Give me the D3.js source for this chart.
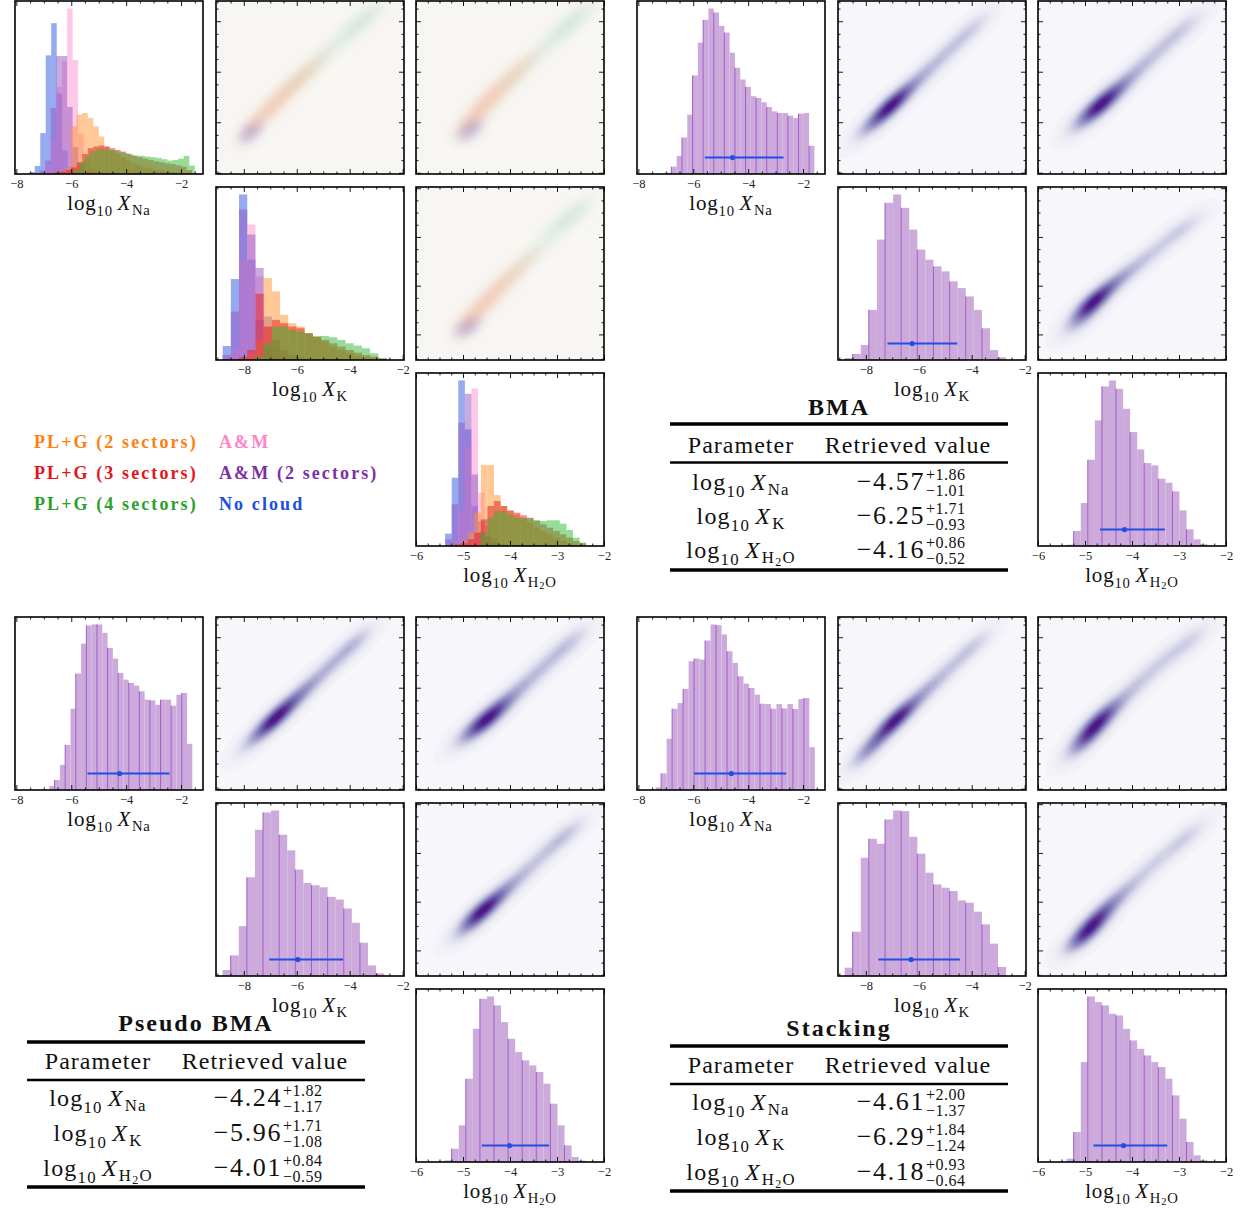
<!DOCTYPE html>
<html>
<head>
<meta charset="utf-8">
<script src="https://cdn.jsdelivr.net/npm/d3@7"></script>
<style>
body { margin: 0; background: #fff; }
</style>
</head>
<body>
<script>
// ---------- axes ----------
var paramKeys = ["Na", "K", "H2O"];
var naRange = [-8.05, -1.2];
var kRange = [-9.05, -1.95];
var h2oRange = [-6.0, -2.0];
var naTicks = [-8, -6, -4, -2];
var kTicks = [-8, -6, -4, -2];
var h2oTicks = [-6, -5, -4, -3, -2];
var minorSteps = [0.5, 0.5, 0.25];

// ---------- individual models (top left block) ----------
var modelNames = ["PL+G (2 sectors)", "PL+G (3 sectors)", "PL+G (4 sectors)", "A&M", "A&M (2 sectors)", "No cloud"];
var modelText = ["#ff7f0e", "#e4141c", "#2ca02c", "#ff85c6", "#7b2fa6", "#1a4fe0"];
var modelFill = ["#ff912d", "#e81a1e", "#2db92d", "#ff91cd", "#9155c3", "#2d55e1"];
var drawOrder = [5, 3, 4, 0, 1, 2];

var naModelStart = [-6.6, -6.6, -5.9, -7.15, -7.35, -7.53];
var naModelWidth = 0.2;
var naModelCounts = [
  [5, 10, 20, 142, 177, 182, 167, 142, 112, 82, 70, 60, 50, 40, 32, 26, 20, 16, 12, 10, 8, 6, 5, 4, 3, 2],
  [5, 8, 12, 20, 35, 60, 77, 82, 85, 82, 77, 72, 67, 60, 54, 50, 46, 42, 38, 35, 32, 30, 26, 22, 12],
  [12, 35, 55, 68, 75, 75, 72, 70, 66, 62, 58, 55, 54, 52, 50, 48, 44, 40, 42, 46, 54, 25],
  [5, 30, 100, 260, 337, 494, 340, 120, 40, 15, 6, 3, 2, 1],
  [3, 10, 40, 197, 352, 352, 200, 80, 30, 12, 6, 3, 2, 1],
  [6, 24, 122, 354, 450, 240, 70, 20, 8, 4, 2]
];
var kModelStart = [-8.8, -8.8, -7.57, -8.8, -8.8, -8.8];
var kModelWidth = 0.31;
var kModelCounts = [
  [1, 2, 5, 20, 60, 245, 205, 135, 110, 100, 80, 70, 55, 40, 30, 20, 12, 8, 5, 3],
  [1, 3, 8, 30, 198, 100, 120, 110, 100, 95, 80, 70, 60, 50, 40, 30, 22, 15, 10, 5],
  [10, 50, 100, 100, 90, 85, 80, 70, 72, 68, 60, 50, 43, 35, 20, 5],
  [3, 30, 300, 405, 250, 100, 40, 20, 10, 5, 3],
  [15, 145, 450, 375, 275, 130, 60, 30, 15, 8, 5, 3],
  [42, 242, 495, 300, 120, 40, 15, 8, 4, 2]
];
var h2oModelStart = [-5.18, -5.18, -4.62, -5.38, -5.38, -5.38];
var h2oModelWidth = 0.14;
var h2oModelCounts = [
  [5, 15, 40, 100, 243, 243, 153, 120, 105, 95, 85, 70, 55, 45, 35, 25, 15, 8, 3],
  [5, 10, 20, 40, 80, 120, 135, 120, 107, 100, 92, 85, 75, 65, 55, 45, 35, 25, 15, 8],
  [40, 85, 105, 105, 95, 85, 83, 83, 78, 75, 77, 77, 67, 48, 25, 10],
  [3, 15, 100, 300, 473, 160, 60, 25, 10, 5, 3],
  [20, 125, 370, 457, 215, 75, 30, 12, 6, 3, 2],
  [37, 205, 497, 350, 120, 40, 15, 8, 4, 2]
];

// faint 2D densities of the individual models: [x, y, weight]
var groupColors = ["#6a51a3", "#e6550d", "#31a354"];
var groupAlpha = [0.055, 0.035, 0.018];
var coolNaK = [[-7.75, -6.4, 1]], coolNaH2O = [[-4.85, -6.3, 1]], coolKH2O = [[-4.9, -7.7, 1]];
var orangeNaK = [[-7.3, -5.8, 1], [-6.7, -5.1, 0.9], [-6.0, -4.4, 0.7], [-5.3, -3.7, 0.45]];
var orangeNaH2O = [[-4.75, -5.8, 1], [-4.45, -5.1, 0.9], [-4.1, -4.4, 0.7], [-3.7, -3.7, 0.45]];
var orangeKH2O = [[-4.75, -7.2, 1], [-4.45, -6.5, 0.9], [-4.1, -5.8, 0.7], [-3.7, -5.0, 0.45]];
var greenNaK = [[-6.0, -4.4, 0.5], [-5.0, -3.4, 0.7], [-4.0, -2.4, 0.9], [-3.3, -1.8, 1]];
var greenNaH2O = [[-3.9, -4.3, 0.5], [-3.4, -3.3, 0.7], [-2.9, -2.4, 0.9], [-2.55, -1.8, 1]];
var greenKH2O = [[-3.9, -5.5, 0.5], [-3.4, -4.5, 0.7], [-2.9, -3.5, 0.9], [-2.6, -2.95, 1]];
var coolCov = [[0.3, 0.3, 0.5], [0.18, 0.3, 0.5], [0.18, 0.3, 0.5]];
var modelCov = [[0.5, 0.5, 0.8], [0.3, 0.5, 0.8], [0.3, 0.48, 0.8]];

// ---------- averaged posteriors ----------
var methodNames = ["BMA", "Pseudo BMA", "Stacking"];
var histStart = [[-6.99, -8.8, -5.39], [-6.8, -8.8, -5.39], [-7.37, -8.8, -5.39]];
var histWidth = [[0.193, 0.305, 0.15], [0.193, 0.305, 0.15], [0.2, 0.305, 0.15]];

var bmaNaCounts = [4, 22, 54, 109, 177, 294, 392, 460, 494, 482, 442, 422, 362, 317, 282, 260, 232, 227, 214, 200, 187, 182, 182, 174, 167, 180, 182, 84];
var bmaKCounts = [6, 18, 45, 150, 360, 470, 495, 455, 390, 330, 300, 280, 265, 235, 215, 190, 150, 95, 30, 8];
var bmaH2OCounts = [4, 45, 129, 259, 377, 479, 497, 472, 412, 342, 290, 249, 242, 202, 190, 164, 107, 50, 20, 5];
var pseudoNaCounts = [12, 30, 75, 135, 243, 348, 438, 492, 495, 495, 470, 425, 393, 350, 330, 320, 312, 295, 270, 268, 255, 270, 270, 252, 285, 290, 138];
var pseudoKCounts = [18, 62, 150, 297, 440, 492, 498, 425, 378, 320, 280, 273, 267, 238, 230, 203, 160, 100, 32, 8];
var pseudoH2OCounts = [5, 40, 110, 250, 400, 490, 497, 470, 420, 370, 330, 305, 290, 270, 235, 175, 110, 50, 15, 4];
var stackNaCounts = [8, 50, 153, 243, 260, 302, 385, 393, 390, 447, 495, 493, 465, 415, 380, 340, 318, 305, 285, 258, 257, 243, 257, 244, 257, 242, 272, 275, 128];
var stackKCounts = [25, 133, 355, 412, 397, 470, 497, 495, 418, 367, 310, 275, 265, 255, 227, 220, 193, 155, 97, 27];
var stackH2OCounts = [10, 90, 300, 497, 480, 470, 445, 440, 400, 365, 340, 320, 300, 285, 250, 200, 130, 60, 20, 5];

var bmaMedian = [-4.57, -6.25, -4.16], bmaPlus = [1.86, 1.71, 0.86], bmaMinus = [1.01, 0.93, 0.52];
var pseudoMedian = [-4.24, -5.96, -4.01], pseudoPlus = [1.82, 1.71, 0.84], pseudoMinus = [1.17, 1.08, 0.59];
var stackMedian = [-4.61, -6.29, -4.18], stackPlus = [2.00, 1.84, 0.93], stackMinus = [1.37, 1.24, 0.64];

// ridge of the joint density, [x, y, weight]
var bmaNaK = [[-8.0, -6.3, 0.3], [-7.5, -5.8, 0.6], [-7.0, -5.3, 1], [-6.4, -4.7, 0.55], [-5.7, -4.0, 0.4], [-5.0, -3.3, 0.35], [-4.3, -2.6, 0.32], [-3.75, -2.1, 0.22]];
var bmaNaH2O = [[-5.1, -6.0, 0.3], [-4.85, -5.6, 0.6], [-4.6, -5.2, 1], [-4.25, -4.6, 0.55], [-3.85, -3.9, 0.4], [-3.45, -3.2, 0.35], [-3.05, -2.5, 0.32], [-2.75, -2.1, 0.22]];
var bmaKH2O = [[-5.15, -7.6, 0.3], [-5.0, -7.1, 0.6], [-4.8, -6.6, 1], [-4.45, -6.0, 0.55], [-4.05, -5.4, 0.4], [-3.6, -4.7, 0.35], [-3.1, -3.9, 0.32], [-2.75, -3.45, 0.22]];
var pseudoNaK = [[-7.8, -6.2, 0.3], [-7.2, -5.6, 0.7], [-6.7, -5.1, 1], [-6.1, -4.5, 0.6], [-5.5, -3.9, 0.47], [-4.8, -3.2, 0.42], [-4.1, -2.5, 0.4], [-3.6, -2.05, 0.3]];
var pseudoNaH2O = [[-4.95, -5.9, 0.35], [-4.65, -5.5, 0.75], [-4.4, -5.1, 1], [-4.05, -4.5, 0.55], [-3.65, -3.8, 0.44], [-3.25, -3.1, 0.4], [-2.85, -2.4, 0.36], [-2.6, -2.05, 0.26]];
var pseudoKH2O = [[-4.95, -7.2, 0.3], [-4.75, -6.7, 0.75], [-4.5, -6.2, 1], [-4.15, -5.6, 0.55], [-3.75, -4.9, 0.44], [-3.3, -4.1, 0.38], [-2.9, -3.4, 0.34], [-2.7, -3.05, 0.24]];
var stackNaK = [[-8.1, -6.7, 0.45], [-7.6, -6.1, 0.6], [-7.0, -5.4, 1], [-6.5, -4.9, 0.7], [-5.8, -4.2, 0.47], [-5.1, -3.5, 0.4], [-4.3, -2.7, 0.36], [-3.7, -2.15, 0.26]];
var stackNaH2O = [[-5.1, -6.3, 0.55], [-4.9, -5.8, 0.8], [-4.7, -5.3, 1], [-4.35, -4.7, 0.55], [-3.9, -3.9, 0.42], [-3.45, -3.1, 0.38], [-2.95, -2.4, 0.34], [-2.65, -2.0, 0.24]];
var stackKH2O = [[-5.1, -7.6, 0.75], [-4.9, -7.1, 0.9], [-4.7, -6.6, 0.75], [-4.4, -6.0, 0.55], [-4.0, -5.3, 0.44], [-3.5, -4.4, 0.38], [-3.0, -3.6, 0.34], [-2.7, -3.1, 0.24]];
var ridgeCov = [[0.46, 0.46, 0.72], [0.28, 0.48, 0.72], [0.28, 0.45, 0.72]];

// ---------- layout ----------
var PW = 188, PH = 173;
var colX = [15, 216, 416], rowY = [1, 187, 373];
var blockOffsets = [[0, 0], [622, 0], [0, 616], [622, 616]];
var pairs = [[1, 0, 0, 1], [2, 0, 0, 2], [2, 1, 1, 2]]; // xParam, yParam, row, col
var tableLayouts = [
  {x0: 670, x1: 1008, title: 415, top: 424, header: 453, mid: 462.5, row0: 490, step: 34, bottom: 570},
  {x0: 27, x1: 365, title: 1031, top: 1042, header: 1069, mid: 1080, row0: 1106, step: 35, bottom: 1187},
  {x0: 670, x1: 1008, title: 1036, top: 1046, header: 1073, mid: 1084, row0: 1110, step: 35, bottom: 1191}
];
var SERIF = "'Liberation Serif', 'Times New Roman', serif";

var ranges = [naRange, kRange, h2oRange];
var majorTicks = [naTicks, kTicks, h2oTicks];
var fmtTick = d3.format("d");

var svg = d3.select("body").append("svg")
  .attr("width", 1245).attr("height", 1209)
  .attr("font-family", SERIF);
var defs = svg.append("defs");
defs.append("clipPath").attr("id", "panelClip")
  .append("rect").attr("width", PW).attr("height", PH);
defs.append("filter").attr("id", "soft")
  .attr("x", "-20%").attr("y", "-20%").attr("width", "140%").attr("height", "140%")
  .append("feGaussianBlur").attr("stdDeviation", 3.5);

function scaleFor(i, horizontal) {
  return d3.scaleLinear().domain(ranges[i]).range(horizontal ? [0, PW] : [PH, 0]);
}

function minorTicks(i) {
  var d = ranges[i], s = minorSteps[i];
  return d3.range(Math.ceil(d[0] / s), Math.floor(d[1] / s) + 1)
    .map(function (k) { return k * s; })
    .filter(function (v) { return majorTicks[i].indexOf(v) < 0; });
}

function panel(off, row, col) {
  return svg.append("g")
    .attr("transform", "translate(" + (off[0] + colX[col]) + "," + (off[1] + rowY[row]) + ")");
}

function addTicks(g, i, orient, labels) {
  var horiz = orient === "bottom" || orient === "top";
  var sc = scaleFor(i, horiz);
  var maj = majorTicks[i].filter(function (v) {
    return v >= ranges[i][0] - 1e-9 && v <= ranges[i][1] + 1e-9;
  });
  var make = {bottom: d3.axisBottom, top: d3.axisTop, left: d3.axisLeft, right: d3.axisRight}[orient];
  var tr = {bottom: [0, PH], top: [0, 0], left: [0, 0], right: [PW, 0]}[orient];
  var a = g.append("g").attr("transform", "translate(" + tr + ")")
    .call(make(sc).tickValues(maj).tickSize(-5).tickPadding(5)
      .tickFormat(labels ? fmtTick : function () { return ""; }));
  var b = g.append("g").attr("transform", "translate(" + tr + ")")
    .call(make(sc).tickValues(minorTicks(i)).tickSize(-2.5).tickFormat(function () { return ""; }));
  [a, b].forEach(function (s) {
    s.attr("font-family", SERIF).attr("font-size", 12.5);
    s.select(".domain").remove();
    s.selectAll("line").attr("stroke", "#000").attr("stroke-width", 0.9);
    s.selectAll("text").attr("fill", "#222");
  });
}

function frame(g) {
  g.append("rect").attr("width", PW).attr("height", PH)
    .attr("fill", "none").attr("stroke", "#000").attr("stroke-width", 1.6);
}

// log10 X_p label built from tspans
function paramLabel(t, key, s) {
  t.append("tspan").text("log");
  t.append("tspan").attr("font-size", 0.7 * s).attr("dy", 0.3 * s).text("10");
  t.append("tspan").attr("font-size", s).attr("dy", -0.3 * s).attr("dx", 0.22 * s)
    .attr("font-style", "italic").text("X");
  if (key === "H2O") {
    t.append("tspan").attr("font-size", 0.7 * s).attr("dy", 0.22 * s).attr("dx", 0.04 * s).text("H");
    t.append("tspan").attr("font-size", 0.5 * s).attr("dy", 0.12 * s).text("2");
    t.append("tspan").attr("font-size", 0.7 * s).attr("dy", -0.12 * s).text("O");
  } else {
    t.append("tspan").attr("font-size", 0.7 * s).attr("dy", 0.22 * s).attr("dx", 0.04 * s).text(key);
  }
}

function axisLabel(g, i) {
  var t = g.append("text").attr("x", PW / 2).attr("y", PH + 36)
    .attr("text-anchor", "middle").attr("font-size", 21).attr("letter-spacing", 0.8).attr("fill", "#111");
  paramLabel(t, paramKeys[i], 21);
}

function histogram(g, x, y, start, width, counts, fill, opacity) {
  var bins = counts.map(function (c, k) {
    return {x0: start + k * width, x1: start + (k + 1) * width, c: c, k: k};
  });
  g.append("g").selectAll("rect").data(bins).enter().append("rect")
    .attr("x", function (d) { return x(d.x0); })
    .attr("width", function (d) { return x(d.x1) - x(d.x0); })
    .attr("y", function (d) { return y(d.c); })
    .attr("height", function (d) { return y(0) - y(d.c); })
    .attr("fill", fill).attr("fill-opacity", opacity);
  return bins;
}

function density(parent, xi, yi, ridge, cov, levels, fillFn, opacity, power) {
  var x = scaleFor(xi, true), y = scaleFor(yi, false);
  var n = 96, vals = new Array(n * n), det = 1 - cov[2] * cov[2];
  for (var j = 0; j < n; j++) {
    var yv = y.invert((j + 0.5) * PH / n);
    for (var i = 0; i < n; i++) {
      var xv = x.invert((i + 0.5) * PW / n), s = 0;
      ridge.forEach(function (p) {
        var dx = (xv - p[0]) / cov[0], dy = (yv - p[1]) / cov[1];
        s += p[2] * Math.exp(-0.5 * (dx * dx - 2 * cov[2] * dx * dy + dy * dy) / det);
      });
      vals[j * n + i] = s;
    }
  }
  var mx = d3.max(vals);
  var th = d3.range(1, levels + 1).map(function (k) { return mx * Math.pow(k / (levels + 1), power); });
  var cs = d3.contours().size([n, n]).thresholds(th)(vals);
  parent.append("g").attr("transform", "scale(" + PW / n + "," + PH / n + ")")
    .selectAll("path").data(cs).enter().append("path")
    .attr("d", d3.geoPath())
    .attr("fill", function (d, k) { return fillFn(Math.pow(k / (levels - 1), power)); })
    .attr("fill-opacity", opacity);
}

// ---------- top-left block: individual models ----------
(function () {
  var off = blockOffsets[0];
  var starts = [naModelStart, kModelStart, h2oModelStart];
  var widths = [naModelWidth, kModelWidth, h2oModelWidth];
  var counts = [naModelCounts, kModelCounts, h2oModelCounts];
  [0, 1, 2].forEach(function (i) {
    var g = panel(off, i, i);
    var x = scaleFor(i, true);
    var yMax = 1.045 * d3.max(counts[i], function (c) { return d3.max(c); });
    var y = d3.scaleLinear().domain([0, yMax]).range([PH, 0]);
    drawOrder.forEach(function (m) {
      histogram(g, x, y, starts[i][m], widths[i], counts[i][m], modelFill[m], 0.5);
    });
    addTicks(g, i, "bottom", true);
    addTicks(g, i, "top", false);
    frame(g);
    axisLabel(g, i);
  });
  var groups = [
    [coolNaK, coolNaH2O, coolKH2O],
    [orangeNaK, orangeNaH2O, orangeKH2O],
    [greenNaK, greenNaH2O, greenKH2O]
  ];
  pairs.forEach(function (p, pi) {
    var g = panel(off, p[2], p[3]);
    g.append("rect").attr("width", PW).attr("height", PH).attr("fill", "#f7f6f2");
    var wrap = g.append("g").attr("clip-path", "url(#panelClip)").append("g").attr("filter", "url(#soft)");
    groups.forEach(function (gr, gi) {
      density(wrap, p[0], p[1], gr[pi], gi === 0 ? coolCov[pi] : modelCov[pi], 8,
        function () { return groupColors[gi]; }, groupAlpha[gi], 1);
    });
    ["bottom", "top", "left", "right"].forEach(function (o) {
      addTicks(g, (o === "bottom" || o === "top") ? p[0] : p[1], o, false);
    });
    frame(g);
  });
  // legend
  modelNames.forEach(function (name, m) {
    svg.append("text")
      .attr("x", [34, 219][Math.floor(m / 3)])
      .attr("y", [448, 479, 510][m % 3])
      .attr("font-family", SERIF)
      .attr("font-size", 18).attr("font-weight", "bold").attr("letter-spacing", 2.1)
      .attr("fill", modelText[m]).text(name);
  });
})();

// ---------- averaged blocks ----------
var methodCounts = [
  [bmaNaCounts, bmaKCounts, bmaH2OCounts],
  [pseudoNaCounts, pseudoKCounts, pseudoH2OCounts],
  [stackNaCounts, stackKCounts, stackH2OCounts]
];
var methodRidges = [
  [bmaNaK, bmaNaH2O, bmaKH2O],
  [pseudoNaK, pseudoNaH2O, pseudoKH2O],
  [stackNaK, stackNaH2O, stackKH2O]
];
var methodMedian = [bmaMedian, pseudoMedian, stackMedian];
var methodPlus = [bmaPlus, pseudoPlus, stackPlus];
var methodMinus = [bmaMinus, pseudoMinus, stackMinus];

methodNames.forEach(function (name, mi) {
  var off = blockOffsets[mi + 1];
  [0, 1, 2].forEach(function (i) {
    var g = panel(off, i, i);
    var x = scaleFor(i, true);
    var cts = methodCounts[mi][i];
    var yMax = 1.045 * d3.max(cts);
    var y = d3.scaleLinear().domain([0, yMax]).range([PH, 0]);
    var bins = histogram(g, x, y, histStart[mi][i], histWidth[mi][i], cts, "#cdaadc", 1);
    g.append("g").selectAll("line").data(bins.filter(function (d) { return d.k % 2 === 1; }))
      .enter().append("line")
      .attr("x1", function (d) { return x(d.x0); }).attr("x2", function (d) { return x(d.x0); })
      .attr("y1", function (d) { return y(d.c); }).attr("y2", y(0))
      .attr("stroke", "#a35cc6").attr("stroke-width", 1);
    var med = methodMedian[mi][i];
    var ey = y(yMax * 0.095);
    g.append("line")
      .attr("x1", x(med - methodMinus[mi][i])).attr("x2", x(med + methodPlus[mi][i]))
      .attr("y1", ey).attr("y2", ey)
      .attr("stroke", "#1f4fe6").attr("stroke-width", 2);
    g.append("circle").attr("cx", x(med)).attr("cy", ey).attr("r", 2.6).attr("fill", "#1f4fe6");
    addTicks(g, i, "bottom", true);
    addTicks(g, i, "top", false);
    frame(g);
    axisLabel(g, i);
  });
  pairs.forEach(function (p, pi) {
    var g = panel(off, p[2], p[3]);
    g.append("rect").attr("width", PW).attr("height", PH).attr("fill", "#f7f6fa");
    var wrap = g.append("g").attr("clip-path", "url(#panelClip)");
    density(wrap, p[0], p[1], methodRidges[mi][pi], ridgeCov[pi], 24,
      function (t) { return d3.interpolatePurples(0.08 + 0.84 * t); }, 1, 1.4);
    ["bottom", "top", "left", "right"].forEach(function (o) {
      addTicks(g, (o === "bottom" || o === "top") ? p[0] : p[1], o, false);
    });
    frame(g);
  });

  // table of retrieved values
  var L = tableLayouts[mi];
  var tg = svg.append("g").attr("fill", "#111");
  var cx1 = L.x0 + 71, cx2 = L.x0 + 238;
  tg.append("text").attr("x", (L.x0 + L.x1) / 2).attr("y", L.title)
    .attr("text-anchor", "middle").attr("font-size", 24).attr("font-weight", "bold")
    .attr("letter-spacing", 2).text(name);
  [[L.top, 3.5], [L.mid, 2.4], [L.bottom, 3.5]].forEach(function (r) {
    tg.append("line").attr("x1", L.x0).attr("x2", L.x1).attr("y1", r[0]).attr("y2", r[0])
      .attr("stroke", "#000").attr("stroke-width", r[1]);
  });
  tg.append("text").attr("x", cx1).attr("y", L.header).attr("text-anchor", "middle")
    .attr("font-size", 24).attr("letter-spacing", 1).text("Parameter");
  tg.append("text").attr("x", cx2).attr("y", L.header).attr("text-anchor", "middle")
    .attr("font-size", 24).attr("letter-spacing", 1).text("Retrieved value");
  paramKeys.forEach(function (key, i) {
    var yb = L.row0 + i * L.step;
    var t = tg.append("text").attr("x", cx1).attr("y", yb).attr("text-anchor", "middle")
      .attr("font-size", 24).attr("letter-spacing", 1.2);
    paramLabel(t, key, 24);
    var xv = L.x0 + 255;
    tg.append("text").attr("x", xv).attr("y", yb).attr("text-anchor", "end")
      .attr("font-size", 26).attr("letter-spacing", 1.6).text(d3.format(".2f")(methodMedian[mi][i]));
    tg.append("text").attr("x", xv + 1).attr("y", yb - 10).attr("font-size", 16).attr("letter-spacing", 0.5)
      .text(d3.format("+.2f")(methodPlus[mi][i]));
    tg.append("text").attr("x", xv + 1).attr("y", yb + 6).attr("font-size", 16).attr("letter-spacing", 0.5)
      .text(d3.format(".2f")(-methodMinus[mi][i]));
  });
});
</script>
</body>
</html>
